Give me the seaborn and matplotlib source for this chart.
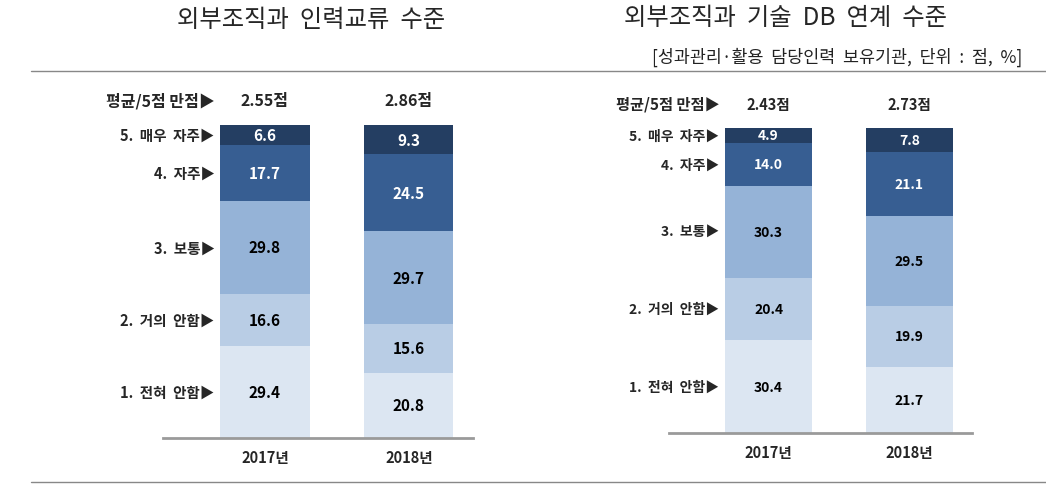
import numpy as np
import pandas as pd
import seaborn as sns
import matplotlib.pyplot as plt
from matplotlib.lines import Line2D

sns.set_theme(style="white")
plt.rcParams['font.family'] = ['Noto Sans CJK KR', 'DejaVu Sans']

# Data
years = ["2017년", "2018년"]
levels = ["1. 전혀 안함", "2. 거의 안함", "3. 보통", "4. 자주", "5. 매우 자주"]
colors = ["#DCE6F2", "#B9CDE5", "#95B3D7", "#375E92", "#243E62"]
text_colors = ["black", "black", "black", "white", "white"]

# rows = levels (1..5), cols = years
staff_exchange = [[29.4, 20.8], [16.6, 15.6], [29.8, 29.7], [17.7, 24.5], [6.6, 9.3]]
staff_avg = ["2.55점", "2.86점"]

db_link = [[30.4, 21.7], [20.4, 19.9], [30.3, 29.5], [14.0, 21.1], [4.9, 7.8]]
db_avg = ["2.43점", "2.73점"]

titles = ["외부조직과  인력교류  수준", "외부조직과  기술  DB  연계  수준"]
subtitle = "[성과관리·활용  담당인력  보유기관,  단위  :  점,  %]"

W, H = 1046, 502
fig = plt.figure(figsize=(W / 100, H / 100), dpi=100)


def draw_panel(rect, values, avgs, fs_val, fs_lab, fs_avg):
    ax = fig.add_axes(rect)
    vals = np.array(values)
    tops = np.cumsum(vals, axis=0)
    width = 0.62
    # draw tallest cumulative first so lower layers sit on top
    for i in range(len(levels) - 1, -1, -1):
        df = pd.DataFrame({"year": years, "top": tops[i]})
        sns.barplot(data=df, x="year", y="top", color=colors[i], width=width,
                    saturation=1, ax=ax, linewidth=0)
    for i in range(len(levels)):
        for j in range(len(years)):
            mid = tops[i][j] - vals[i][j] / 2
            ax.text(j, mid, f"{vals[i][j]:.1f}", ha="center", va="center",
                    color=text_colors[i], fontsize=fs_val, fontweight="bold")
        mid0 = tops[i][0] - vals[i][0] / 2
        ax.annotate(levels[i].replace(" ", "  ") + "▶", xy=(-width / 2, mid0), xytext=(-4, 0),
                    textcoords="offset points", ha="right", va="center",
                    fontsize=fs_lab, fontweight="bold", annotation_clip=False)
    ax.annotate("평균/5점 만점▶", xy=(-width / 2, 108), xytext=(-4, 0),
                textcoords="offset points", ha="right", va="center",
                fontsize=fs_avg, fontweight="bold", annotation_clip=False)
    for j in range(len(years)):
        ax.text(j, 108, avgs[j], ha="center", va="center", fontsize=fs_val + 0.5,
                fontweight="bold", clip_on=False)
    ax.set_xlim(-0.708, 1.446)
    ax.set_ylim(0, 100)
    ax.set_xlabel("")
    ax.set_ylabel("")
    ax.set_yticks([])
    for s in ["top", "left", "right"]:
        ax.spines[s].set_visible(False)
    ax.spines["bottom"].set_color("#9A9A9A")
    ax.spines["bottom"].set_linewidth(2)
    ax.tick_params(axis="x", length=0, pad=8, labelsize=10.5)
    for t in ax.get_xticklabels():
        t.set_fontweight("bold")
    return ax


draw_panel([163 / W, (H - 439) / H, 310 / W, 313 / H], staff_exchange, staff_avg, 11, 10.5, 11.5)
draw_panel([669 / W, (H - 434) / H, 303 / W, 305 / H], db_link, db_avg, 10, 10, 11)

fig.text(311 / W, 1 - 20 / H, titles[0], ha="center", va="center", fontsize=17.5)
fig.text(785 / W, 1 - 18 / H, titles[1], ha="center", va="center", fontsize=17.5)
fig.text(1022 / W, 1 - 57 / H, subtitle, ha="right", va="center", fontsize=12.5, color="#222222")

fig.add_artist(Line2D([31 / W, 1], [1 - 72 / H, 1 - 72 / H], color="#888888", lw=1))
fig.add_artist(Line2D([31 / W, 1], [1 - 483 / H, 1 - 483 / H], color="#888888", lw=1))

plt.savefig("out.png", dpi=100)
